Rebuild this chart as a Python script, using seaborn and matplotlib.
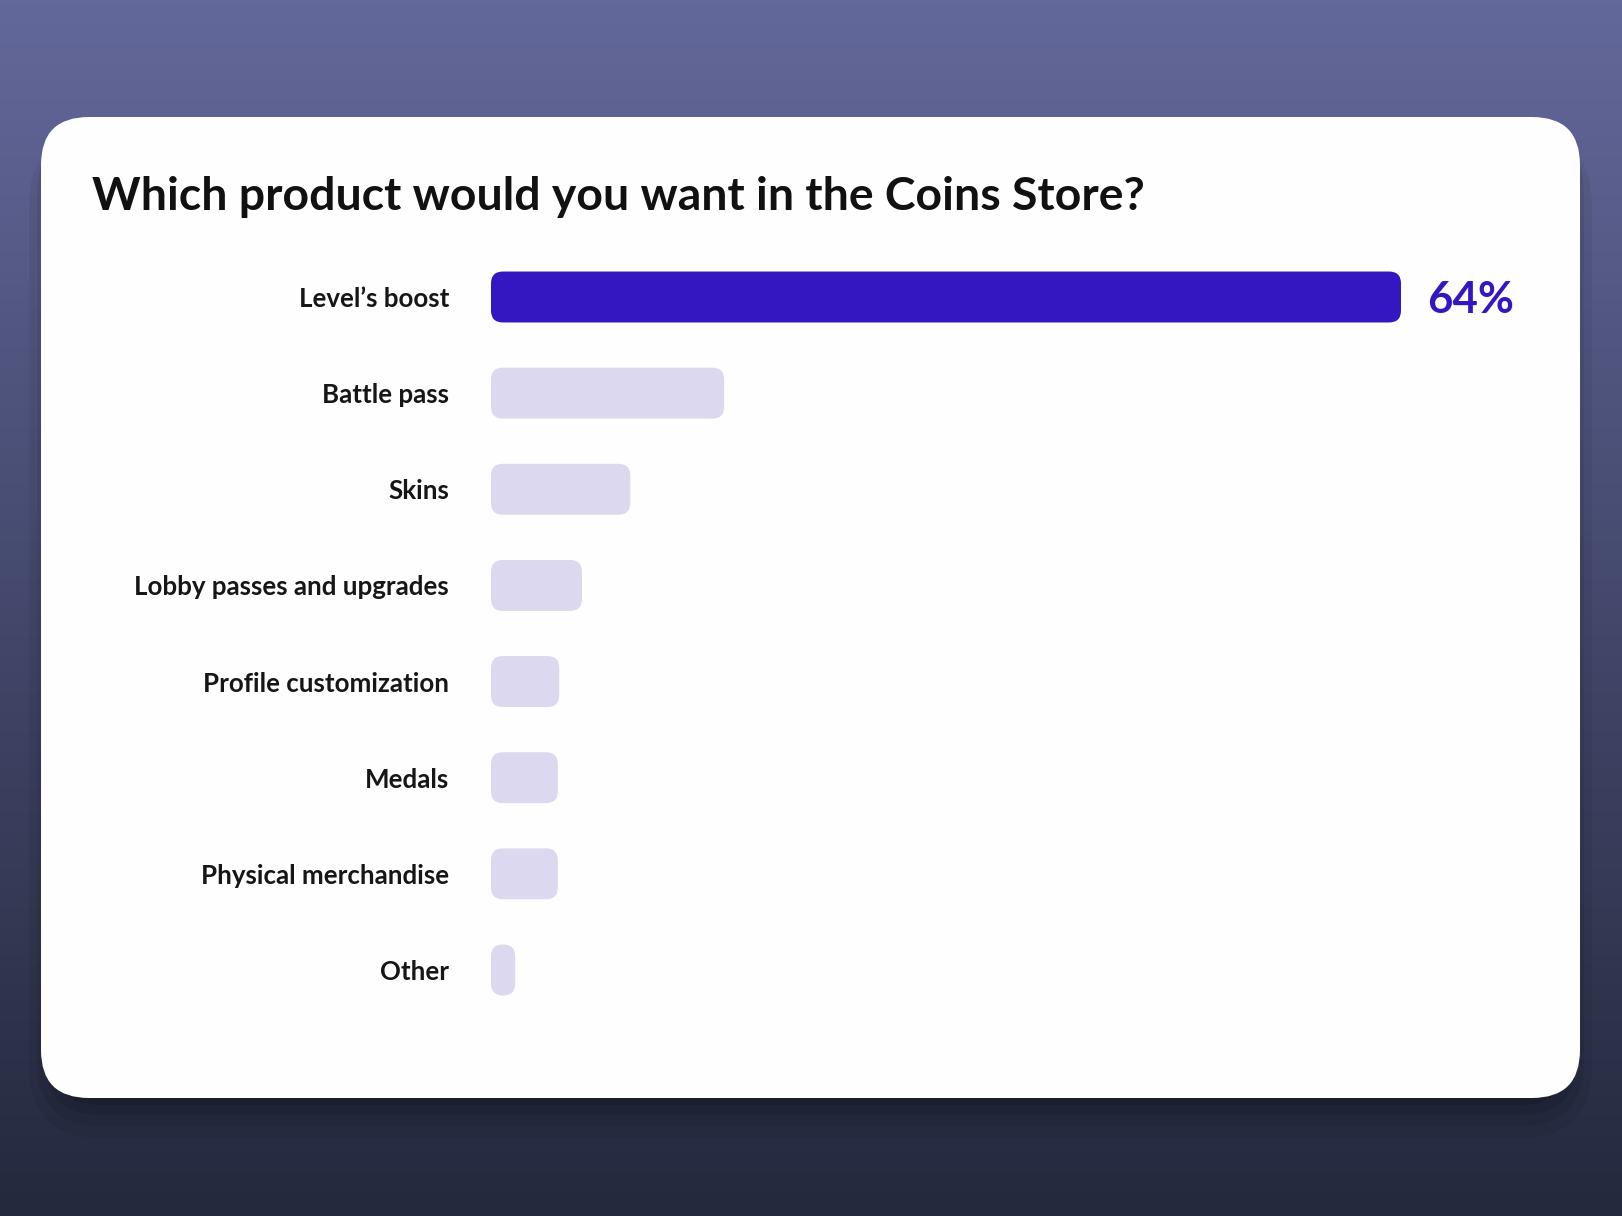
import numpy as np
import pandas as pd
import matplotlib
matplotlib.use("Agg")
import matplotlib.pyplot as plt
from matplotlib.patches import FancyBboxPatch
import seaborn as sns

# ---- data ----
categories = ["Level’s boost", "Battle pass", "Skins", "Lobby passes and upgrades",
              "Profile customization", "Medals", "Physical merchandise", "Other"]
values = [64, 16.4, 9.8, 6.4, 4.8, 4.7, 4.7, 1.7]
highlight_label = "64%"
title = "Which product would you want in the Coins Store?"

W, H = 1622, 1216
sns.set_theme(style="white")
plt.rcParams['font.family'] = ['Lato', 'DejaVu Sans']

fig = plt.figure(figsize=(W / 100, H / 100), dpi=100)

# background axes in pixel coordinates
bg = fig.add_axes([0, 0, 1, 1], zorder=0)
bg.set_xlim(0, W)
bg.set_ylim(H, 0)
bg.axis("off")
top = np.array([0x63, 0x68, 0x9B]) / 255
bot = np.array([0x24, 0x29, 0x3D]) / 255
t = np.linspace(0, 1, 256)[:, None]
grad = (top[None, :] * (1 - t) + bot[None, :] * t)[:, None, :]
bg.imshow(grad, extent=[0, W, H, 0], aspect="auto", zorder=0)

cx0, cy0, cx1, cy1 = 41, 117, 1580, 1098
crad = 48
# shadow
for off, grow, a in [(16, 24, 0.05), (12, 16, 0.07), (8, 9, 0.09), (4, 3, 0.12)]:
    sh = FancyBboxPatch((cx0 - grow + 12, cy0 + off), (cx1 - cx0) + 2 * grow - 24, (cy1 - cy0) + grow,
                        boxstyle=f"round,pad=0,rounding_size={crad + grow}",
                        facecolor="black", edgecolor="none", alpha=a, zorder=1)
    bg.add_patch(sh)
card = FancyBboxPatch((cx0, cy0), cx1 - cx0, cy1 - cy0,
                      boxstyle=f"round,pad=0,rounding_size={crad}",
                      facecolor="#FEFEFE", edgecolor="none", zorder=2)
bg.add_patch(card)

# ---- bar chart axes ----
px_per_x = 910 / 64.0
px_per_row = 96.14
x_left_px = 491
xmax = 73.0
ax_w_px = xmax * px_per_x
y_top_px = 297 - px_per_row / 2
ax_h_px = px_per_row * 8
ax = fig.add_axes([x_left_px / W, 1 - (y_top_px + ax_h_px) / H, ax_w_px / W, ax_h_px / H], zorder=3)
ax.patch.set_alpha(0)

df = pd.DataFrame({"category": categories, "value": values})
colors = ["#3517C2"] + ["#DCD8EF"] * (len(categories) - 1)
sns.barplot(data=df, x="value", y="category", hue="category", palette=colors,
            legend=False, width=0.53, ax=ax, saturation=1)
ax.set_xlim(0, xmax)
ax.set_ylim(len(categories) - 0.5, -0.5)

# replace bars with rounded versions
aspect = px_per_x / px_per_row
for p in list(ax.patches):
    x, y = p.get_x(), p.get_y()
    w, h = p.get_width(), p.get_height()
    fc = p.get_facecolor()
    p.remove()
    r_px = min(12, w * px_per_x / 2, h * px_per_row / 2)
    r = r_px / px_per_x
    rb = FancyBboxPatch((x, y), w, h, boxstyle=f"round,pad=0,rounding_size={r}",
                        mutation_aspect=aspect, facecolor=fc, edgecolor="none")
    ax.add_patch(rb)

ax.set_xlabel("")
ax.set_ylabel("")
ax.set_xticks([])
ax.tick_params(axis="y", length=0, pad=30.2)
for lbl in ax.get_yticklabels():
    lbl.set_fontsize(18.6)
    lbl.set_fontweight("bold")
    lbl.set_color("#161616")
for s in ax.spines.values():
    s.set_visible(False)

ax.annotate(highlight_label, xy=(values[0], 0), xytext=(19, -2.5), textcoords="offset points",
            ha="left", va="center", fontsize=31.6, fontweight="bold", color="#3517C2")

fig.text(92 / W, 1 - 210 / H, title, ha="left", va="baseline",
         fontsize=33.4, fontweight="bold", color="#111111")

fig.savefig("out.png", dpi=100)
